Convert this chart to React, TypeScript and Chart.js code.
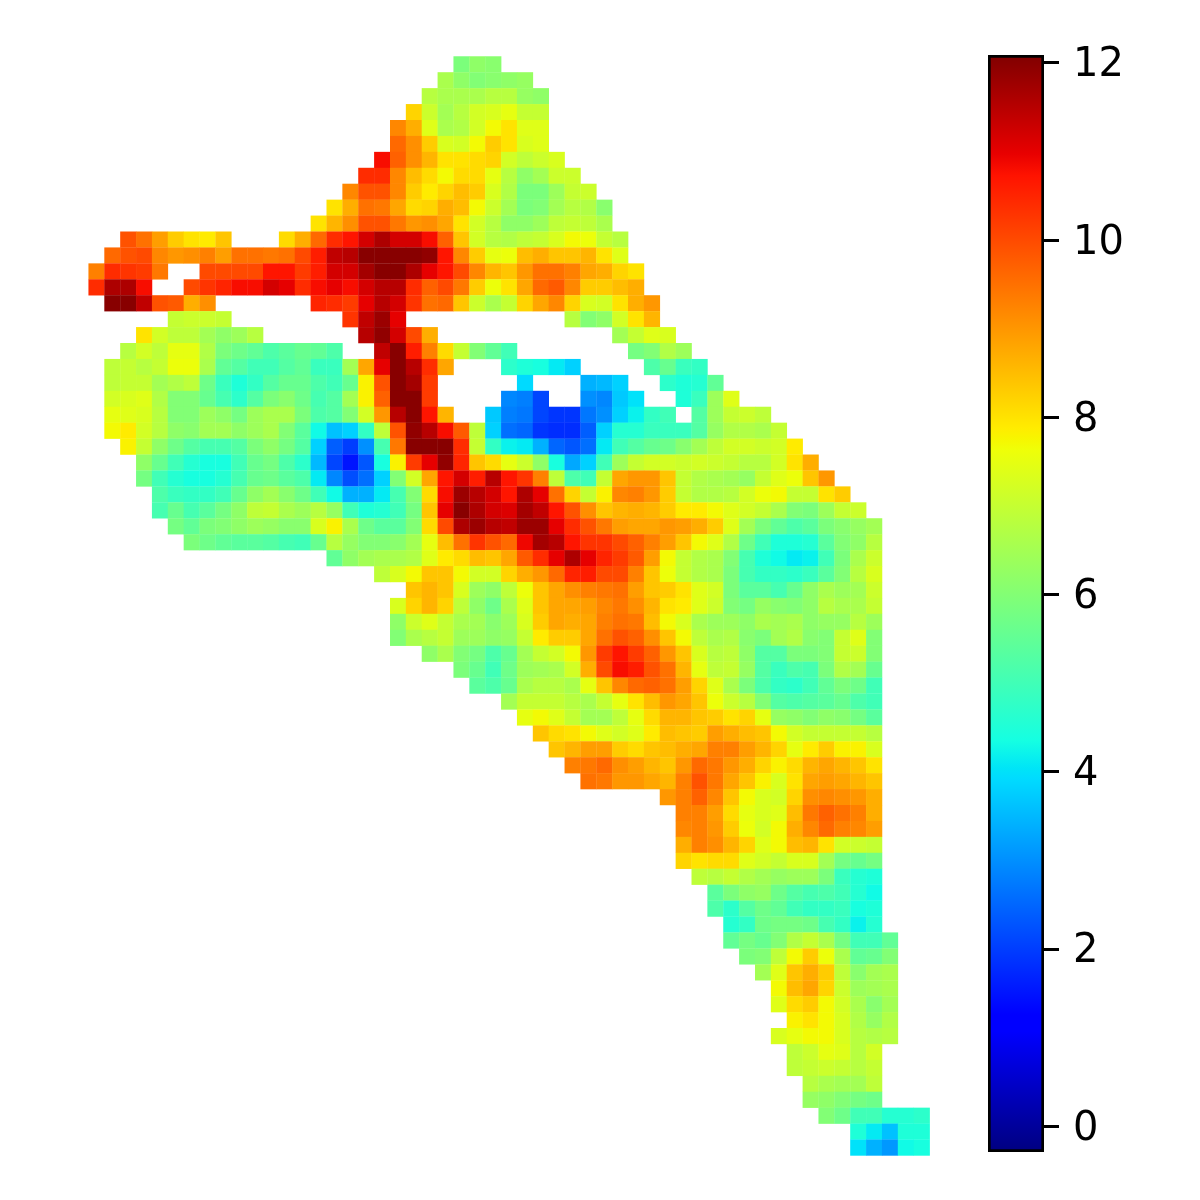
import React, { useEffect, useRef } from "react";
import { Chart, registerables } from "chart.js";

Chart.register(...registerables);

const _ = null;
const colorMin = -0.29;
const colorMax = 12.09;
const colorbarTicks = [0, 2, 4, 6, 8, 10, 12];
const jetStops = [0, 0.11, 0.125, 0.34, 0.35, 0.375, 0.64, 0.65, 0.66, 0.89, 0.91, 1];

const rowStart = [
  23, 22, 21, 20, 19, 19, 18, 17, 16, 15, 14, 2, 1, 0, 0, 1, 5, 3, 2, 1, 1, 1, 1, 1, 2,
  3, 3, 4, 4, 5, 6, 15, 18, 20, 19, 19, 19, 21, 23, 24, 26, 27, 28, 29, 30, 31, 36, 37, 37, 37, 37,
  38, 39, 39, 40, 40, 41, 42, 43, 43, 44, 43, 44, 44, 45, 45, 46, 48, 48,
];
const row00 = [5.9, 6.2, 6.1];
const row01 = [6.6, 6.2, 6.0, 6.1, 6.2, 6.3];
const row02 = [6.8, 6.6, 6.6, 6.6, 6.8, 6.8, 6.3, 6.2];
const row03 = [8.2, 7.1, 6.5, 6.8, 7.2, 7.3, 7.5, 7.0, 7.0];
const row04 = [9.2, 8.7, 7.4, 6.6, 6.7, 7.2, 7.7, 8.0, 7.4, 7.4];
const row05 = [9.6, 9.1, 8.3, 7.3, 7.2, 7.7, 8.3, 8.0, 7.3, 7.4];
const row06 = [10.8, 9.7, 9.1, 8.6, 8.0, 8.0, 8.1, 8.2, 7.2, 6.9, 7.1, 7.3];
const row07 = [10.4, 10.4, 9.2, 8.5, 8.1, 7.7, 8.1, 8.1, 7.5, 6.8, 6.2, 6.5, 7.1, 7.1];
const row08 = [9.2, 9.9, 9.9, 9.2, 8.3, 7.9, 8.2, 8.5, 8.3, 7.3, 6.7, 5.9, 5.9, 6.4, 7.0, 7.1];
const row09 = [8.0, 8.7, 9.5, 9.4, 8.8, 8.1, 8.2, 8.7, 8.5, 7.7, 7.1, 6.5, 5.9, 6.0, 6.5, 6.8, 6.7, 6.1];
const row10 = [8.0, 8.6, 9.1, 9.9, 9.9, 9.4, 9.0, 9.1, 8.8, 8.0, 7.2, 6.8, 6.2, 6.2, 6.4, 6.9, 7.0, 6.9, 6.6];
const row11 = [9.9, 9.5, 8.9, 8.3, 8.0, 7.9, 8.4, _, _, _, 8.1, 8.7, 9.6, 10.4, 10.7, 11.2, 11.6, 11.2, 11.2, 10.8, 9.7, 8.4, 7.2, 6.8, 6.7, 6.9, 7.0, 7.3, 7.7, 7.6, 7.0, 6.8];
const row12 = [9.6, 9.9, 10, 9.2, 9.0, 9.1, 9.3, 8.9, 9.5, 9.5, 9.4, 9.5, 10, 10.6, 11.4, 11.5, 12, 12, 12, 12, 11.9, 10.7, 9.2, 8.3, 7.5, 7.6, 8.5, 8.7, 8.4, 8.4, 8.6, 8.0, 7.4];
const row13 = [9.3, 10.4, 10.3, 10.2, 9.4, _, _, 10, 10, 10, 10, 10.7, 10.7, 10.2, 10.6, 11.2, 11.2, 11.7, 12, 12, 11.6, 11, 10.7, 10, 9.2, 8.6, 8.4, 9.0, 9.5, 9.5, 9.3, 8.8, 8.7, 8.2, 8.0];
const row14 = [10.4, 11.6, 11.6, 10.8, _, _, 10, 10.3, 10.5, 10.8, 10.8, 11.2, 11, 10.4, 10.8, 11, 10.8, 11.2, 11.5, 11.5, 10.4, 9.7, 10, 9.4, 8.3, 7.6, 8.0, 8.8, 9.6, 9.8, 9.2, 8.3, 8.3, 8.5, 8.7];
const row15 = [12, 12, 11.4, 9.9, 9.8, 8.7, 9.1, _, _, _, _, _, _, 10.5, 10.4, 10.2, 11, 11.5, 11.2, 10.3, 9.5, 9.6, 8.4, 7.1, 6.6, 7.0, 8.2, 8.8, 9.2, 8.2, 7.3, 7.2, 8.0, 8.7, 9.0];
const row16 = [7.0, 7.1, 7.1, 7.0, _, _, _, _, _, _, _, 10.3, 11.4, 11.8, 11.0, _, _, _, _, _, _, _, _, _, _, 6.8, 6.0, 6.2, 7.2, 8.0, 8.6];
const row17 = [8.0, 7.2, 6.9, 6.9, 6.5, 6.2, 6.4, 6.8, _, _, _, _, _, _, 11.5, 11.9, 11.2, 10, 8.7, _, _, _, _, _, _, _, _, _, _, _, 6.5, 7.0, 7.4, 7.3];
const row18 = [6.8, 7.2, 6.9, 7.5, 7.5, 6.7, 5.9, 5.7, 5.5, 5.2, 5.4, 5.6, 5.5, 5.2, _, _, 11.4, 12, 10.6, 9.3, 8.1, 7.0, 6.0, 5.5, 5.0, _, _, _, _, _, _, _, 5.8, 6.0, 6.7, 6.4];
const row19 = [6.9, 7.0, 6.8, 7.0, 7.6, 7.6, 6.6, 5.5, 5.3, 5.0, 5.0, 5.3, 5.5, 4.9, 4.9, 6.5, 8.8, 11, 12, 11.5, 10.4, 8.8, _, _, _, 4.7, 4.5, 4.4, 4.1, 3.8, _, _, _, _, 5.2, 5.6, 4.9, 4.8];
const row20 = [6.9, 7.0, 7.0, 6.5, 6.7, 6.9, 5.7, 4.9, 4.5, 4.8, 5.3, 5.6, 5.6, 5.2, 5.0, 5.6, 7.8, 9.9, 12, 11.7, 10.2, _, _, _, _, _, 3.9, _, _, _, 3.4, 3.5, 3.8, _, _, 4.7, 4.5, 4.6, 5.5];
const row21 = [7.2, 7.3, 7.4, 6.7, 6.0, 6.0, 5.6, 5.1, 4.7, 5.3, 5.9, 6.1, 5.7, 5.1, 5.3, 6.5, 7.8, 9.7, 12, 12, 10.2, _, _, _, _, 2.9, 2.8, 2.1, _, _, 3.0, 2.9, 3.7, 4.0, _, _, 4.5, 4.9, 6.4, 7.4];
const row22 = [7.5, 7.4, 7.3, 6.8, 6.0, 6.0, 6.4, 6.2, 5.8, 6.4, 6.6, 6.6, 5.9, 5.2, 5.3, 6.0, 7.2, 9.0, 11.5, 12, 10.7, 8.6, _, _, 3.7, 2.8, 2.7, 2.1, 1.9, 1.9, 2.7, 3.0, 3.8, 4.2, 4.8, 5.0, _, 5.3, 6.4, 7.0, 7.1, 6.9];
const row23 = [7.7, 7.9, 7.2, 6.8, 6.2, 6.1, 6.5, 6.5, 6.2, 6.4, 6.6, 6.0, 5.4, 4.3, 3.6, 3.8, 4.8, 6.9, 9.9, 11.9, 11.5, 10.8, 9.8, 6.9, 3.8, 2.6, 2.5, 1.9, 1.8, 1.8, 2.4, 3.8, 4.6, 4.6, 4.9, 4.9, 4.9, 5.3, 6.3, 6.7, 6.7, 6.6, 7.0];
const row24 = [7.8, 7.0, 6.2, 5.7, 5.3, 5.1, 5.1, 5.3, 5.9, 6.2, 5.8, 5.3, 3.8, 2.4, 2.0, 3.0, 5.1, 9.4, 12, 12, 12, 10.4, 7.0, 4.8, 4.2, 4.1, 3.4, 2.5, 2.3, 2.6, 4.1, 5.0, 5.3, 5.6, 5.7, 6.1, 6.5, 6.9, 7.2, 7.2, 7.1, 7.2, 7.9];
const row25 = [6.2, 5.6, 5.0, 4.6, 4.4, 4.4, 5.0, 5.6, 5.8, 5.2, 4.7, 3.5, 2.1, 1.5, 2.3, 4.4, 7.8, 10.2, 11, 11.9, 10.5, 8.4, 8.1, 7.5, 7.1, 6.2, 4.4, 3.3, 3.8, 5.0, 6.4, 7.0, 7.2, 7.2, 7.1, 7.2, 7.1, 7.0, 6.8, 6.8, 7.2, 8.0, 8.7];
const row26 = [5.8, 5.0, 4.6, 4.4, 4.4, 4.6, 5.1, 5.6, 5.7, 5.4, 5.2, 4.1, 2.9, 2.2, 2.6, 3.8, 6.0, 7.2, 8.8, 10.7, 11.2, 10.6, 11.5, 10.7, 10.3, 9.3, 6.9, 5.2, 5.0, 7.0, 8.8, 9.0, 9.0, 8.4, 7.0, 6.7, 6.6, 6.5, 6.3, 7.0, 7.4, 7.6, 8.4, 9.0];
const row27 = [5.2, 4.9, 4.8, 4.8, 5.0, 5.6, 6.2, 6.5, 6.1, 5.7, 5.0, 4.3, 3.4, 3.4, 4.1, 5.1, 6.0, 8.1, 10.8, 11.8, 11.5, 11.2, 10.7, 11.6, 11, 9.5, 8.2, 7.0, 7.8, 9.2, 9.3, 9.0, 8.3, 7.0, 6.7, 6.7, 6.8, 7.2, 7.6, 7.7, 7.0, 7.0, 8.0, 8.3];
const row28 = [5.1, 5.6, 5.1, 5.4, 5.8, 6.2, 6.9, 7.0, 6.6, 6.4, 6.8, 6.3, 5.0, 4.5, 4.6, 5.0, 5.8, 8.4, 11, 12, 11.6, 11.2, 11.1, 11.7, 11.4, 10.7, 9.9, 9.1, 8.4, 8.6, 8.7, 8.6, 8.3, 7.9, 7.9, 7.7, 7.4, 7.2, 7.0, 6.6, 6.0, 5.9, 6.4, 7.0, 7.1];
const row29 = [5.8, 5.5, 5.9, 6.0, 6.2, 6.4, 6.3, 6.1, 6.1, 7.3, 7.8, 6.6, 5.7, 5.4, 5.4, 6.0, 8.1, 10, 11.6, 11.8, 11.5, 11.4, 11.8, 11.8, 11, 10.4, 9.9, 9.4, 8.9, 8.8, 8.8, 9, 8.9, 8.7, 8.3, 7.4, 6.5, 5.9, 5.5, 5.2, 5.4, 5.9, 6.1, 6.3, 6.5];
const row30 = [5.9, 5.7, 5.5, 5.4, 5.4, 5.3, 5.1, 5.0, 5.6, 6.8, 6.3, 6.0, 6.0, 6.1, 6.5, 7.5, 8.5, 9.5, 10.3, 9.9, 9.6, 10.9, 11.7, 11.5, 10.7, 10.3, 10.3, 10, 9.7, 9.3, 8.9, 8.4, 7.7, 7.4, 6.7, 5.7, 5.0, 4.5, 4.5, 4.6, 5.4, 6.0, 6.2, 6.8];
const row31 = [5.5, 6.2, 6.5, 6.6, 6.6, 6.7, 7.4, 7.9, 8.1, 8.5, 8.4, 8.8, 9.8, 10.4, 11, 11.6, 11, 10.5, 10.2, 9.8, 8.9, 7.7, 7.0, 6.7, 6.6, 6.0, 5.1, 4.5, 4.3, 4.1, 4.2, 5.0, 5.9, 6.6, 7.1];
const row32 = [6.9, 7.3, 7.7, 8.4, 8.4, 7.7, 7.2, 7.2, 8.2, 8.7, 9, 9.6, 10.5, 10.6, 10, 10, 9.3, 8.4, 7.6, 7.0, 6.7, 6.6, 5.9, 5.1, 4.8, 4.8, 4.7, 4.9, 5.4, 6.0, 6.8, 7.3];
const row33 = [8.4, 8.6, 8.4, 7.3, 6.4, 6.2, 6.9, 7.6, 8.4, 8.8, 9.1, 9.3, 9.4, 9.5, 8.9, 8.4, 8.3, 8.0, 7.4, 7.2, 5.9, 5.4, 5.4, 5.1, 5.6, 6.2, 6.6, 6.4, 6.5, 7.1];
const row34 = [7.3, 8.2, 8.6, 8.2, 6.9, 6.2, 5.7, 6.6, 7.4, 8.4, 8.8, 8.8, 8.9, 9.2, 9.4, 9.1, 8.6, 8.0, 7.9, 7.4, 7.1, 6.0, 5.8, 6.3, 6.1, 6.0, 6.2, 6.8, 6.6, 6.6, 7.0];
const row35 = [6.2, 7.1, 7.4, 7.0, 6.6, 6.5, 6.1, 6.4, 7.3, 8.3, 8.8, 8.7, 8.8, 9.3, 9.5, 9.4, 8.5, 7.7, 7.3, 6.6, 6.4, 6.4, 6.2, 6.6, 6.5, 6.6, 6.2, 6.3, 6.3, 6.8, 6.4];
const row36 = [6.0, 6.6, 6.8, 7.0, 6.4, 6.4, 6.2, 6.3, 7.0, 7.9, 8.3, 8.3, 8.8, 9.5, 9.9, 9.7, 9.1, 8.4, 7.7, 6.9, 6.6, 6.7, 6.1, 5.9, 6.5, 6.7, 6.1, 6.0, 7.0, 7.4, 6.0];
const row37 = [6.2, 6.6, 6.0, 5.8, 5.2, 5.6, 6.5, 7, 7.2, 7.7, 9.0, 10.2, 10.7, 10.2, 9.7, 9.0, 8.4, 7.3, 6.8, 6.9, 6.2, 5.3, 5.3, 5.9, 5.9, 6.0, 7.0, 7.1, 6.0];
const row38 = [5.9, 5.6, 5.0, 5.7, 6.4, 6.5, 6.6, 7.2, 8.7, 10.0, 10.8, 10.6, 9.9, 9.5, 8.6, 7.5, 6.9, 7.0, 6.3, 5.3, 4.9, 5.2, 5.1, 5.9, 6.7, 6.5, 5.6];
const row39 = [5.4, 5.2, 5.6, 6.6, 6.8, 6.8, 6.6, 7.5, 8.4, 9.2, 9.6, 9.7, 9.5, 8.9, 8.2, 7.4, 6.6, 5.9, 5.2, 4.8, 4.7, 5.0, 5.5, 5.9, 5.7, 5.0];
const row40 = [6.5, 7.0, 7.0, 7.0, 6.8, 6.6, 7, 7.5, 8.0, 8.5, 9.0, 8.8, 8.4, 7.6, 7.1, 6.8, 6.0, 5.3, 5.2, 5.3, 5.4, 5.6, 5.2, 5.0];
const row41 = [7.5, 7.7, 7.4, 7.0, 6.5, 6.5, 6.9, 7.5, 8.1, 8.6, 8.6, 8.4, 8.3, 8.0, 8.2, 7.5, 6.3, 6.2, 6.0, 6.2, 6.1, 5.8, 5.4];
const row42 = [8.4, 8.1, 8.0, 7.7, 7.4, 7.2, 7.4, 7.9, 8.5, 8.4, 8.3, 8.9, 8.7, 8.5, 8.4, 7.7, 7.2, 7, 7, 7, 7, 6.8];
const row43 = [8.4, 8.6, 8.9, 8.9, 8.3, 8.1, 8.4, 8.5, 8.7, 8.8, 9.3, 9.3, 8.9, 8.6, 8.2, 7.5, 7.9, 8.3, 7.8, 7.8, 7.3];
const row44 = [9.3, 9.4, 9.6, 9.1, 8.9, 8.6, 8.4, 9, 9.6, 9.4, 9, 8.7, 8.2, 7.8, 8.1, 8.6, 8.8, 8.6, 8.4, 8.0];
const row45 = [9.5, 9.4, 9.0, 9.0, 8.8, 8.6, 9.3, 9.9, 9.4, 8.8, 8.4, 7.8, 7.3, 8.0, 8.8, 8.9, 8.8, 8.6, 8.4];
const row46 = [9.0, 9.3, 9.7, 9.2, 8.4, 7.7, 7.3, 7.2, 8.2, 9.1, 9.2, 9.1, 9.0, 8.7];
const row47 = [9.3, 9.3, 8.9, 8.1, 7.5, 7.3, 7.4, 8.5, 9.4, 9.7, 9.5, 9.3, 8.7];
const row48 = [9.2, 9.3, 9.0, 8.3, 7.6, 7.2, 7.7, 8.7, 9.2, 9.6, 9.3, 9.2, 8.9];
const row49 = [8.7, 9.3, 9.1, 8.6, 8.2, 7.4, 7.7, 8.5, 8.6, 8.0, 7.2, 7.1, 7.0];
const row50 = [8.2, 8.0, 8.1, 8.1, 7.4, 7.2, 7.0, 7.3, 7.3, 6.5, 5.8, 5.6, 5.8];
const row51 = [6.9, 6.8, 7.0, 6.7, 6.5, 6.3, 6.4, 6.4, 5.9, 4.9, 4.6, 4.5];
const row52 = [5.4, 5.9, 6.2, 6.3, 5.7, 5.3, 5.1, 5.2, 5.0, 4.6, 4.3];
const row53 = [5.2, 4.7, 5.3, 5.7, 5.5, 5.0, 4.8, 4.8, 4.9, 4.4, 4.5];
const row54 = [4.6, 4.8, 5.7, 5.8, 5.8, 5.7, 5.1, 4.8, 4.2, 4.6];
const row55 = [5.5, 5.8, 5.6, 6.0, 6.7, 7.0, 6.6, 5.8, 5.0, 5.0, 5.5];
const row56 = [5.9, 6.0, 6.9, 7.7, 8.3, 7.6, 6.6, 5.5, 5.6, 6.0];
const row57 = [6.5, 7.4, 8.4, 8.7, 8.3, 6.9, 6.1, 6.5, 6.6];
const row58 = [7.7, 8.5, 8.8, 8.2, 7.1, 6.4, 6.5, 6.6];
const row59 = [7.4, 8.1, 8.3, 7.7, 7.2, 6.6, 6.1, 6.5];
const row60 = [7.8, 8.0, 7.7, 7.3, 6.7, 6.3, 6.7];
const row61 = [7.3, 7.5, 7.7, 7.7, 7.3, 6.8, 6.7, 6.8];
const row62 = [6.9, 7.1, 7.5, 7.4, 6.8, 7.2];
const row63 = [6.9, 7.0, 7.1, 7.0, 6.8, 7.0];
const row64 = [6.8, 6.6, 6.5, 6.5, 6.9];
const row65 = [6.3, 6.2, 6.0, 5.8, 5.7];
const row66 = [6.0, 5.7, 5.0, 5.0, 4.6, 4.6, 4.7];
const row67 = [4.5, 4.1, 3.6, 4.5, 4.5];
const row68 = [4.0, 3.4, 3.1, 4.3, 4.4];

const rows = [
  row00, row01, row02, row03, row04, row05, row06, row07, row08, row09,
  row10, row11, row12, row13, row14, row15, row16, row17, row18, row19,
  row20, row21, row22, row23, row24, row25, row26, row27, row28, row29,
  row30, row31, row32, row33, row34, row35, row36, row37, row38, row39,
  row40, row41, row42, row43, row44, row45, row46, row47, row48, row49,
  row50, row51, row52, row53, row54, row55, row56, row57, row58, row59,
  row60, row61, row62, row63, row64, row65, row66, row67, row68,
];

function lerpTable(t: number, table: number[][]) {
  for (let i = 1; i < table.length; i++) {
    if (t <= table[i][0]) {
      const [x0, y0] = table[i - 1];
      const [x1, y1] = table[i];
      return y0 + ((t - x0) / (x1 - x0)) * (y1 - y0);
    }
  }
  return table[table.length - 1][1];
}

const jetR = [[0, 0], [0.35, 0], [0.66, 1], [0.89, 1], [1, 0.5]];
const jetG = [[0, 0], [0.125, 0], [0.375, 1], [0.64, 1], [0.91, 0], [1, 0]];
const jetB = [[0, 0.5], [0.11, 1], [0.34, 1], [0.65, 0], [1, 0]];

function jet(t: number) {
  const k = Math.max(0, Math.min(1, t));
  const c = (tb: number[][]) => Math.round(255 * lerpTable(k, tb));
  return `rgb(${c(jetR)},${c(jetG)},${c(jetB)})`;
}

const colorOf = (v: number) => jet((v - colorMin) / (colorMax - colorMin));

const CELL_W = 15.87;
const CELL_H = 15.93;
const GRID_X0 = 88.6;
const GRID_Y0 = 56.4;
const SIZE = 1200;

const cells: { x: number; y: number; v: number }[] = [];
rows.forEach((row, r) => {
  row.forEach((v, i) => {
    if (v !== null) cells.push({ x: rowStart[r] + i + 0.5, y: r + 0.5, v: v as number });
  });
});

export default function App() {
  const mapRef = useRef<HTMLCanvasElement>(null);
  const barRef = useRef<HTMLCanvasElement>(null);

  useEffect(() => {
    const map = new Chart(mapRef.current as HTMLCanvasElement, {
      type: "scatter",
      data: {
        datasets: [
          {
            data: cells,
            pointStyle: "rect",
            pointRadius: 11.45,
            pointBorderWidth: 0,
            borderWidth: 0,
            clip: false,
            backgroundColor: (ctx: any) => (ctx.raw ? colorOf(ctx.raw.v) : "#000"),
          } as any,
        ],
      },
      options: {
        responsive: false,
        animation: false,
        events: [],
        layout: { padding: 0, autoPadding: false },
        plugins: { legend: { display: false }, tooltip: { enabled: false } },
        scales: {
          x: { type: "linear", display: false, min: -GRID_X0 / CELL_W, max: (SIZE - GRID_X0) / CELL_W },
          y: { type: "linear", display: false, reverse: true, min: -GRID_Y0 / CELL_H, max: (SIZE - GRID_Y0) / CELL_H },
        },
      },
    });

    const bar = new Chart(barRef.current as HTMLCanvasElement, {
      type: "bar",
      data: {
        labels: [""],
        datasets: [
          {
            data: [[colorMin, colorMax]],
            barPercentage: 1,
            categoryPercentage: 1,
            borderWidth: 3,
            borderColor: "#000",
            borderSkipped: false,
            backgroundColor: (ctx: any) => {
              const area = ctx.chart.chartArea;
              if (!area) return "#000";
              const g = ctx.chart.ctx.createLinearGradient(0, area.bottom, 0, area.top);
              jetStops.forEach((s) => g.addColorStop(s, jet(s)));
              return g;
            },
          } as any,
        ],
      },
      options: {
        responsive: false,
        animation: false,
        events: [],
        layout: { padding: { left: 988, top: 55, bottom: 48, right: 0 }, autoPadding: false },
        plugins: { legend: { display: false }, tooltip: { enabled: false } },
        scales: {
          x: { display: false },
          y: {
            position: "right",
            min: colorMin,
            max: colorMax,
            afterBuildTicks: (axis: any) => {
              axis.ticks = colorbarTicks.map((value) => ({ value }));
            },
            afterFit: (axis: any) => {
              axis.width = 156;
            },
            border: { display: false },
            grid: { drawOnChartArea: false, drawTicks: true, tickLength: 15, tickWidth: 3, tickColor: "#000" },
            ticks: {
              color: "#000",
              padding: 14,
              autoSkip: false,
              labelOffset: 3,
              font: { family: "'DejaVu Sans'", size: 40 },
            },
          },
        },
      },
    });

    return () => {
      map.destroy();
      bar.destroy();
    };
  }, []);

  const canvasStyle: React.CSSProperties = { position: "absolute", left: 0, top: 0 };
  return (
    <div style={{ position: "absolute", left: 0, top: 0, width: SIZE, height: SIZE, background: "#fff" }}>
      <canvas ref={mapRef} width={SIZE} height={SIZE} style={canvasStyle} />
      <canvas ref={barRef} width={SIZE} height={SIZE} style={canvasStyle} />
    </div>
  );
}
